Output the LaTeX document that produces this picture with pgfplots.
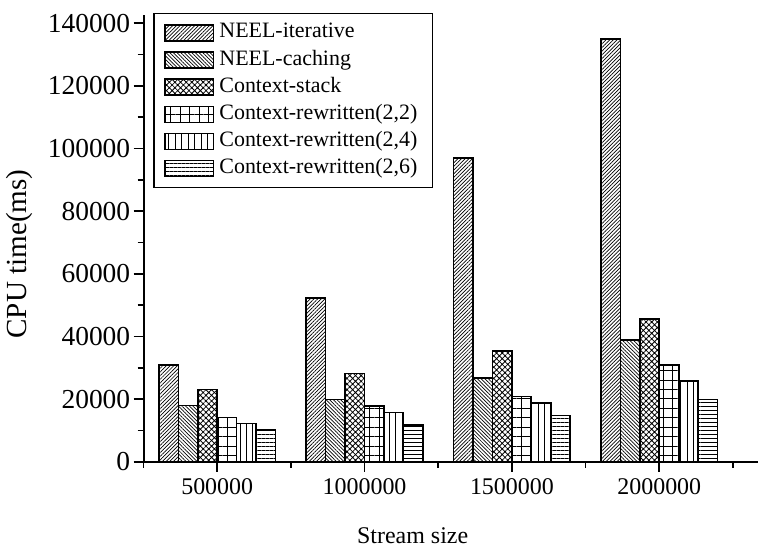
\documentclass[border=0pt]{standalone}
\usepackage{fontspec}
\setmainfont{Liberation Serif}
\usepackage{pgfplots}
\pgfplotsset{compat=1.18}
\usetikzlibrary{patterns,patterns.meta}
\begin{document}
\begin{tikzpicture}
\begin{axis}[
  name=ax,
  scale only axis,
  width=308pt, height=224pt,
  axis lines*=left,
  axis line style={line width=1pt},
  xmin=-0.5, xmax=3.67,
  ymin=0, ymax=142640,
  xtick={0,1,2,3},
  xticklabels={500000,1000000,1500000,2000000},
  minor xtick={-0.5,0.5,1.5,2.5,3.5},
  ytick={0,20000,40000,60000,80000,100000,120000,140000},
  minor ytick={10000,30000,50000,70000,90000,110000,130000},
  tick align=outside,
  major tick length=5pt,
  minor tick length=3pt,
  tick style={black, line width=0.8pt},
  scaled y ticks=false,
  /pgf/number format/assume math mode=true,
  yticklabel={\pgfmathprintnumber[fixed,1000 sep={}]{\tick}},
  yticklabel style={font=\fontsize{13.75}{16}\selectfont, inner xsep=1.5pt},
  xticklabel style={font=\fontsize{12}{14}\selectfont},
  ylabel={CPU time(ms)},
  ylabel style={font=\fontsize{14.6}{17}\selectfont, at={(axis description cs:-0.2013,0.465)}, anchor=center},
  xlabel={Stream size},
  xlabel style={font=\fontsize{12}{14}\selectfont, at={(axis description cs:0.438,-0.183)}, anchor=base},
  ybar,
  bar width=0.132,
  every axis plot/.append style={draw=black, line width=0.8pt},
  legend cell align=left,
  legend style={at={(axis description cs:0.016,1.004)}, anchor=north west,
    draw=black, line width=0.6pt, font=\fontsize{11}{13}\selectfont,
    inner xsep=5pt, inner ysep=4pt,
    nodes={inner ysep=0.6pt, inner xsep=2.5pt, text height=0.75em, text depth=0.25em},
    row sep=2.4pt},
  legend image code/.code={\draw[#1] (0pt,-4pt) rectangle (24.5pt,4pt);},
]
\addplot[bar shift=-0.33, pattern={Lines[angle=45,distance=1.3pt,line width=0.35pt]}]
  coordinates {(0,30960) (1,52280) (2,97050) (3,134900)};
\addplot[bar shift=-0.198, pattern={Lines[angle=-45,distance=1.3pt,line width=0.35pt]}]
  coordinates {(0,18010) (1,19920) (2,26730) (3,38820)};
\addplot[bar shift=-0.066, pattern={Hatch[angle=45,distance=2pt,line width=0.4pt]}]
  coordinates {(0,23100) (1,28190) (2,35320) (3,45600)};
\addplot[bar shift=0.066, pattern={Hatch[angle=0,distance=4.75pt,line width=0.4pt]}]
  coordinates {(0,14190) (1,17820) (2,20870) (3,30860)};
\addplot[bar shift=0.198, pattern={Lines[angle=90,distance=3.25pt,line width=0.4pt]}]
  coordinates {(0,12280) (1,15780) (2,18870) (3,25870)};
\addplot[bar shift=0.33, pattern={Lines[angle=0,distance=2pt,line width=0.4pt]}]
  coordinates {(0,10180) (1,11770) (2,14830) (3,19920)};
\legend{NEEL-iterative,NEEL-caching,Context-stack,Context-rewritten(2{,}2),Context-rewritten(2{,}4),Context-rewritten(2{,}6)}
\end{axis}
\path (ax.north west) ++(0,7.5pt);
\end{tikzpicture}
\end{document}
